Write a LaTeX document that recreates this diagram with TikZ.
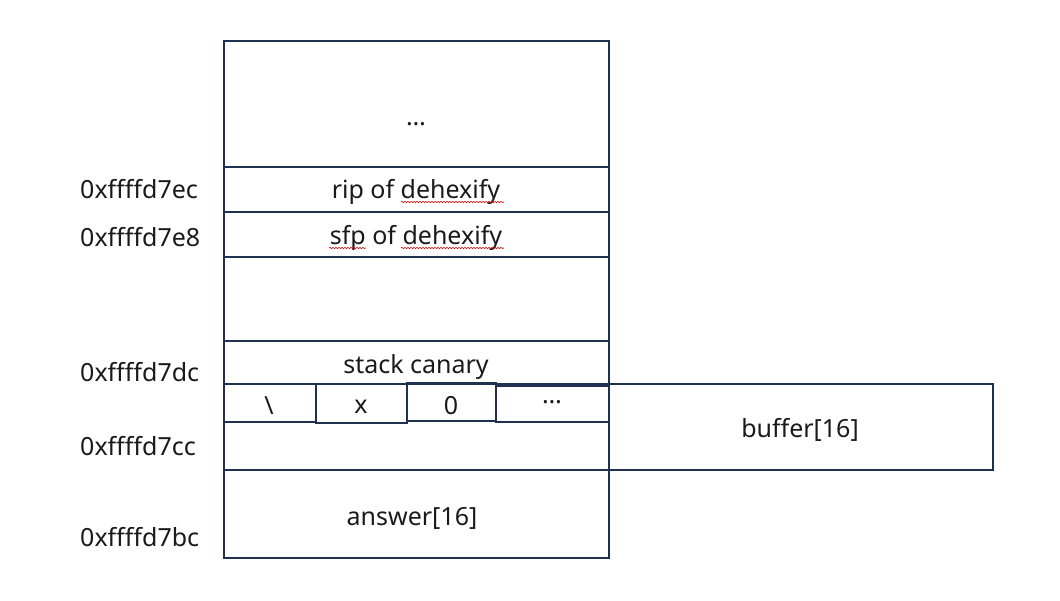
\documentclass[tikz,border=0pt]{standalone}
\usepackage{fontspec}
\setmainfont{Noto Sans}
\usetikzlibrary{decorations.pathmorphing}
\definecolor{navy}{RGB}{31,48,80}
\definecolor{ink}{RGB}{26,26,26}
\tikzset{
  cellbox/.style={draw=navy, line width=2.2pt, anchor=north west, inner sep=0pt, outer sep=0pt},
  txt/.style={text=ink, font=\fontsize{25}{29}\selectfont, inner sep=0pt},
  addr/.style={txt, anchor=west},
  squig/.style={draw=red!85!black, line width=0.6pt, decorate, decoration={snake, amplitude=0.7pt, segment length=3pt}}
}
\begin{document}
\begin{tikzpicture}[x=1pt, y=-1pt]
\useasboundingbox (0,0) rectangle (1060,601);
% main column
\node[cellbox, minimum width=385, minimum height=126] (top) at (224,41) {};
\node[cellbox, minimum width=385, minimum height=45] (rip) at (224,167) {};
\node[cellbox, minimum width=385, minimum height=45] (sfp) at (224,212) {};
\node[cellbox, minimum width=385, minimum height=84] (gap) at (224,257) {};
\node[cellbox, minimum width=385, minimum height=43] (canary) at (224,341) {};
\node[cellbox, minimum width=385, minimum height=86] (bufrow) at (224,384) {};
\node[cellbox, minimum width=385, minimum height=88] (answer) at (224,470) {};
% sub cells
\node[cellbox, minimum width=92, minimum height=38] (c1) at (224,384) {};
\node[cellbox, minimum width=91, minimum height=39] (c2) at (316,384) {};
\node[cellbox, minimum width=89, minimum height=38] (c3) at (407,383) {};
\node[cellbox, minimum width=113, minimum height=36] (c4) at (496,386) {};
% buffer
\node[cellbox, minimum width=384, minimum height=86] (buffer) at (609,384) {};
% texts
\node[txt] (ttop) at (416,124) {…};
\node[txt] (trip) at (416,192) {rip of dehexify};
\node[txt] (tsfp) at (416,238) {sfp of dehexify};
\node[txt] (tcan) at (416,367) {stack canary};
\node[txt] (t1) at (269,406) {\textbackslash};
\node[txt] (t2) at (361,407) {x};
\node[txt] (t3) at (451,406) {0};
\node[txt] (t4) at (552,402) {…};
\node[txt] (tbuf) at (800,430) {buffer[16]};
\node[txt] (tans) at (412,518) {answer[16]};
% addresses
\node[addr] (a1) at (80,189) {0xffffd7ec};
\node[addr] (a2) at (80,237) {0xffffd7e8};
\node[addr] (a3) at (80,372) {0xffffd7dc};
\node[addr] (a4) at (80,446) {0xffffd7cc};
\node[addr] (a5) at (80,537) {0xffffd7bc};
% spell-check marks
\draw[squig] (401,202) -- (504,202);
\draw[squig] (329,248) -- (366,248);
\draw[squig] (401,248) -- (504,248);
\end{tikzpicture}
\end{document}
